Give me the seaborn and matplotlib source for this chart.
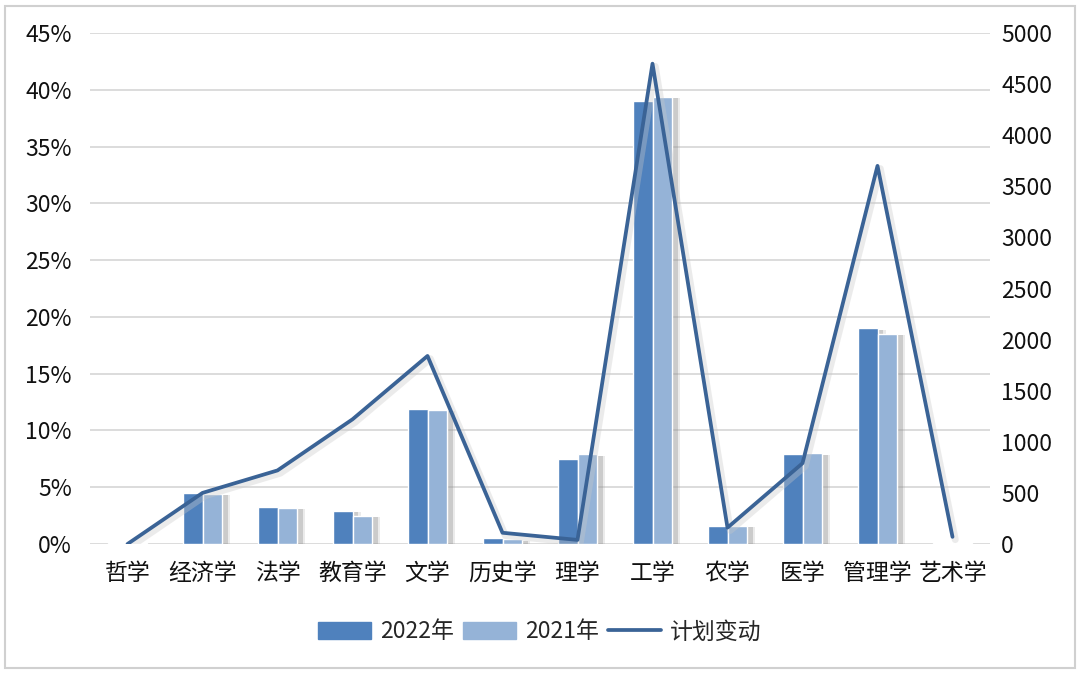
import numpy as np
import pandas as pd
import matplotlib
matplotlib.use("Agg")
import matplotlib.pyplot as plt
import matplotlib.patheffects as pe
from matplotlib.ticker import FuncFormatter, MultipleLocator
from matplotlib.patches import Rectangle
from matplotlib.lines import Line2D
import seaborn as sns

# data
categories = ['哲学', '经济学', '法学', '教育学', '文学', '历史学', '理学', '工学', '农学', '医学', '管理学', '艺术学']
share_2022 = [0.001, 0.045, 0.033, 0.029, 0.119, 0.005, 0.075, 0.390, 0.016, 0.079, 0.190, 0.001]
share_2021 = [0.001, 0.044, 0.032, 0.025, 0.118, 0.004, 0.079, 0.394, 0.016, 0.080, 0.185, 0.0005]
plan_change = [0, 500, 720, 1220, 1840, 110, 40, 4700, 160, 790, 3700, 70]
series_names = ['2022年', '2021年', '计划变动']

c2022 = '#4f81bd'
c2021 = '#95b3d7'
cline = '#3a6396'

sns.set_theme(style='white')
plt.rcParams['font.family'] = ['Noto Sans CJK SC', 'DejaVu Sans']

df = pd.DataFrame({
    'cat': categories * 2,
    'share': share_2022 + share_2021,
    'year': [series_names[0]] * len(categories) + [series_names[1]] * len(categories),
})

fig = plt.figure(figsize=(10.8, 6.74), dpi=100)
ax = fig.add_axes([90 / 1080, 1 - 544 / 674, 900 / 1080, 511 / 674])

sns.barplot(data=df, x='cat', y='share', hue='year', palette=[c2022, c2021], saturation=1,
            width=0.52, order=categories, ax=ax, legend=False, zorder=2)
for p in ax.patches:
    p.set_path_effects([
        pe.SimplePatchShadow(offset=(6, -1), shadow_rgbFace='#b0b0b0', alpha=0.25),
        pe.SimplePatchShadow(offset=(4, -1), shadow_rgbFace='#909090', alpha=0.35),
        pe.Normal()])

ax.set_ylim(0, 0.45)
ax.yaxis.set_major_locator(MultipleLocator(0.05))
ax.yaxis.set_major_formatter(FuncFormatter(lambda v, _: f'{v * 100:.0f}%'))
ax.grid(axis='y', color='#d9d9d9', linewidth=1.3, zorder=0)
ax.set_axisbelow(True)
ax.set_xlabel('')
ax.set_ylabel('')
ax.set_xlim(-0.5, len(categories) - 0.5)
for s in ax.spines.values():
    s.set_visible(False)
ax.tick_params(axis='y', length=0, pad=13, labelsize=16.5, labelcolor='#111111')
ax.tick_params(axis='x', length=0, pad=13, labelsize=16.5, labelcolor='#111111')

ax2 = ax.twinx()
sns.lineplot(x=categories, y=plan_change, sort=False, color=cline, linewidth=2.7, ax=ax2,
             path_effects=[pe.SimpleLineShadow(offset=(2, -2), shadow_color='#c8c8c8', alpha=0.35, linewidth=5), pe.Normal()])
ax2.set_ylim(0, 5000)
ax2.yaxis.set_major_locator(MultipleLocator(500))
for s in ax2.spines.values():
    s.set_visible(False)
ax2.tick_params(axis='y', length=0, pad=8, labelsize=16.5, labelcolor='#111111')
ax2.grid(False)
ax2.set_xlim(-0.5, len(categories) - 0.5)

handles = [Rectangle((0, 0), 1, 1, color=c2022), Rectangle((0, 0), 1, 1, color=c2021),
           Line2D([0], [0], color=cline, linewidth=2.7)]
fig.legend(handles, series_names, loc='center', bbox_to_anchor=(0.5, 1 - 632 / 674), ncol=3,
           frameon=False, fontsize=16.5, handlelength=2.3, handleheight=0.8, columnspacing=0.4,
           handletextpad=0.4)

fig.patches.append(Rectangle((5 / 1080, 6 / 674), 1070 / 1080, 662 / 674, transform=fig.transFigure,
                             fill=False, edgecolor='#d0d0d0', linewidth=1.5))

fig.savefig('out.png', dpi=100)
